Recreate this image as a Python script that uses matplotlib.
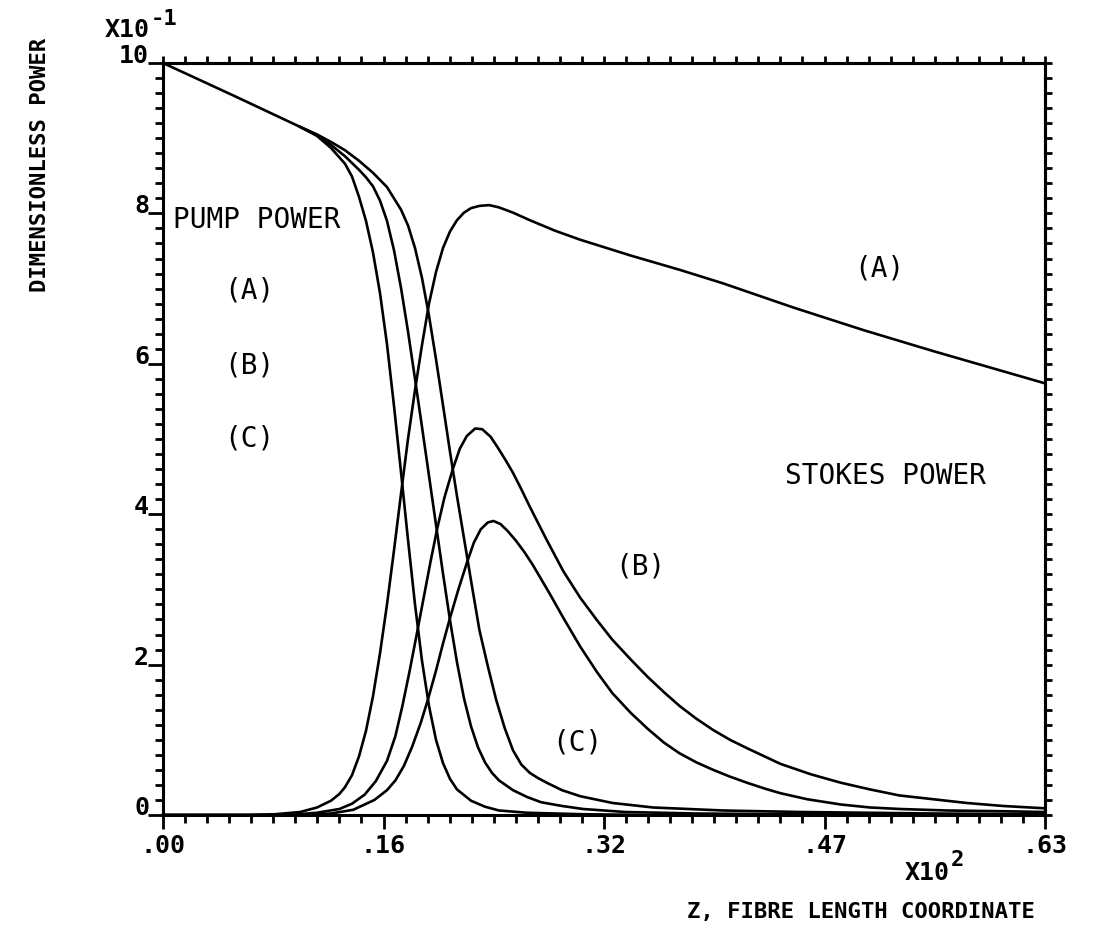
import numpy as np
import matplotlib
matplotlib.use('Agg')
from matplotlib import pyplot as plt

plt.rcParams['font.family'] = ['DejaVu Sans Mono']

###########################################
#       Data
#   z = fibre length coordinate, p = dimensionless power
###########################################
pumpA_z = [0, 5.0, 9.8, 11.0, 12.0, 13.0, 13.5, 14.0, 14.5, 15.0, 15.5, 16.0, 16.5, 17.0,
           17.5, 18.0, 18.5, 19.0, 19.5, 20.0, 20.5, 21.0, 22.0, 23.0, 24.0, 26.0, 30.0,
           35.0, 63.0]
pumpA_p = [1.000, 0.957, 0.915, 0.903, 0.887, 0.866, 0.849, 0.822, 0.790, 0.748, 0.694,
           0.626, 0.544, 0.456, 0.366, 0.280, 0.205, 0.145, 0.100, 0.069, 0.048, 0.034,
           0.019, 0.011, 0.006, 0.003, 0.001, 0.000, 0.000]

pumpB_z = [9.8, 11.0, 12.0, 13.0, 14.0, 14.5, 15.0, 15.5, 16.0, 16.5, 17.0, 17.5, 18.0,
           18.5, 19.0, 19.5, 20.0, 20.5, 21.0, 21.5, 22.0, 22.5, 23.0, 23.5, 24.0, 25.0,
           26.0, 27.0, 28.5, 30.0, 33.0, 38.0, 45.0, 63.0]
pumpB_p = [0.915, 0.904, 0.891, 0.876, 0.858, 0.848, 0.836, 0.817, 0.790, 0.751, 0.701,
           0.643, 0.580, 0.516, 0.451, 0.386, 0.321, 0.259, 0.203, 0.155, 0.118, 0.090,
           0.070, 0.056, 0.046, 0.033, 0.024, 0.017, 0.012, 0.008, 0.004, 0.002, 0.001,
           0.000]

pumpC_z = [9.8, 11.0, 12.0, 13.0, 14.0, 15.0, 16.0, 17.0, 17.5, 18.0, 18.5, 19.0, 19.5,
           20.0, 20.5, 21.0, 21.5, 22.0, 22.6, 23.2, 23.8, 24.4, 25.0, 25.6, 26.2, 26.8,
           27.4, 28.5, 29.8, 32.1, 35.0, 40.0, 45.5, 55.0, 63.0]
pumpC_p = [0.915, 0.905, 0.895, 0.884, 0.870, 0.854, 0.835, 0.805, 0.784, 0.754, 0.714,
           0.664, 0.606, 0.545, 0.483, 0.424, 0.368, 0.312, 0.246, 0.198, 0.153, 0.116,
           0.086, 0.067, 0.056, 0.049, 0.043, 0.033, 0.025, 0.016, 0.010, 0.006, 0.004,
           0.002, 0.001]

stokesA_z = [0, 6.0, 8.0, 9.8, 11.0, 12.0, 12.6, 13.0, 13.5, 14.0, 14.5, 15.0, 15.5, 16.0,
             16.5, 17.0, 17.5, 18.0, 18.5, 19.0, 19.5, 20.0, 20.5, 21.0, 21.5, 22.0, 22.6,
             23.3, 24.0, 25.0, 26.2, 28.0, 29.8, 33.4, 36.9, 40.0, 45.0, 50.0, 55.0, 63.0]
stokesA_p = [0.0, 0.0, 0.001, 0.004, 0.010, 0.019, 0.028, 0.037, 0.053, 0.078, 0.112,
             0.158, 0.215, 0.280, 0.352, 0.427, 0.500, 0.565, 0.625, 0.680, 0.722, 0.754,
             0.776, 0.791, 0.801, 0.807, 0.810, 0.811, 0.808, 0.801, 0.791, 0.777, 0.765,
             0.744, 0.725, 0.707, 0.675, 0.645, 0.617, 0.574]

stokesB_z = [0, 9.0, 11.0, 12.6, 13.5, 14.4, 15.2, 16.0, 16.6, 17.1, 17.6, 18.1, 18.6, 19.1,
             19.6, 20.1, 20.7, 21.2, 21.7, 22.3, 22.8, 23.4, 23.9, 24.5, 25.0, 25.6, 26.2,
             26.8, 27.4, 28.6, 29.8, 31.0, 32.1, 33.4, 34.6, 35.8, 36.9, 38.1, 39.3, 40.5,
             41.7, 44.1, 46.3, 48.4, 50.5, 52.6, 55.0, 57.4, 60.0, 62.9]
stokesB_p = [0.0, 0.0, 0.003, 0.008, 0.015, 0.027, 0.045, 0.072, 0.105, 0.145, 0.190,
             0.238, 0.287, 0.336, 0.382, 0.422, 0.460, 0.487, 0.504, 0.514, 0.513, 0.503,
             0.489, 0.471, 0.455, 0.433, 0.410, 0.388, 0.366, 0.324, 0.289, 0.259, 0.233,
             0.207, 0.184, 0.163, 0.145, 0.128, 0.113, 0.100, 0.089, 0.068, 0.054, 0.043,
             0.034, 0.026, 0.021, 0.016, 0.012, 0.009]

stokesC_z = [0, 10.0, 12.0, 13.6, 15.1, 16.0, 16.6, 17.2, 17.8, 18.4, 18.9, 19.5, 20.0,
             20.5, 21.1, 21.7, 22.2, 22.7, 23.2, 23.6, 24.1, 24.6, 25.2, 25.8, 26.4, 27.0,
             27.6, 28.6, 29.8, 31.0, 32.1, 33.4, 34.6, 35.8, 36.9, 38.1, 39.3, 40.5, 41.7,
             43.0, 44.1, 46.0, 48.4, 50.5, 52.6, 56.0, 60.0, 62.9]
stokesC_p = [0.0, 0.0, 0.002, 0.007, 0.020, 0.033, 0.046, 0.065, 0.091, 0.122, 0.152,
             0.192, 0.228, 0.262, 0.300, 0.335, 0.362, 0.380, 0.389, 0.391, 0.387, 0.378,
             0.365, 0.350, 0.333, 0.314, 0.295, 0.262, 0.224, 0.190, 0.162, 0.136, 0.115,
             0.096, 0.082, 0.070, 0.060, 0.051, 0.043, 0.035, 0.029, 0.021, 0.014, 0.010,
             0.008, 0.006, 0.005, 0.004]

x_major = [0, 15.75, 31.5, 47.25, 63.0]
x_labels = ['.00', '.16', '.32', '.47', '.63']
y_major = [0, 0.2, 0.4, 0.6, 0.8, 1.0]
y_labels = ['0', '2', '4', '6', '8', '10']

###########################################
#               Plot
###########################################
fig = plt.figure(figsize=(10.98, 9.48), dpi=100)
ax = fig.add_axes([163/1098, 1-815/948, (1045-163)/1098, (815-63)/948])

for z, p in [(pumpA_z, pumpA_p), (pumpB_z, pumpB_p), (pumpC_z, pumpC_p),
             (stokesA_z, stokesA_p), (stokesB_z, stokesB_p), (stokesC_z, stokesC_p)]:
    ax.plot(z, p, color='black', lw=1.9, solid_joinstyle='round', clip_on=False)

ax.set_xlim(0, 63)
ax.set_ylim(0, 1.0)
for s in ax.spines.values():
    s.set_linewidth(2.2)

ax.set_xticks(x_major)
ax.set_xticklabels(x_labels, fontsize=18, fontweight='bold')
ax.set_xticks(np.linspace(0, 63, 41), minor=True)
ax.set_yticks(y_major)
ax.set_yticklabels(y_labels, fontsize=18, fontweight='bold')
ax.set_yticks(np.linspace(0, 1.0, 51), minor=True)
for lbl in ax.get_yticklabels():
    lbl.set_va('baseline')

ax.tick_params(axis='x', which='major', direction='out', length=10, width=2, pad=4)
ax.tick_params(axis='x', which='minor', direction='out', length=6, width=2)
ax.tick_params(axis='y', which='major', direction='out', length=11, width=2, pad=-1)
ax.tick_params(axis='y', which='minor', direction='out', length=6, width=2)

# top and right ticks, no labels
secx = ax.secondary_xaxis('top')
secx.set_xticks(np.linspace(0, 63, 41))
secx.set_xticklabels([])
secx.tick_params(direction='out', length=5, width=2)
secx.spines['top'].set_linewidth(2.2)
secy = ax.secondary_yaxis('right')
secy.set_yticks(np.linspace(0, 1.0, 51))
secy.set_yticklabels([])
secy.tick_params(direction='out', length=5, width=2)
secy.spines['right'].set_linewidth(2.2)

# annotations
ann = dict(fontsize=20, color='black')
ax.text(0.7, 0.791, 'PUMP POWER', ha='left', va='center', **ann)
ax.text(6.2, 0.698, '(A)', ha='center', va='center', **ann)
ax.text(6.2, 0.598, '(B)', ha='center', va='center', **ann)
ax.text(6.2, 0.501, '(C)', ha='center', va='center', **ann)
ax.text(51.2, 0.727, '(A)', ha='center', va='center', **ann)
ax.text(51.6, 0.451, 'STOKES POWER', ha='center', va='center', **ann)
ax.text(34.1, 0.330, '(B)', ha='center', va='center', **ann)
ax.text(29.6, 0.097, '(C)', ha='center', va='center', **ann)

# axis titles and scale factors
fig.text(40/1098, 1-165/948, 'DIMENSIONLESS POWER', rotation=90, ha='center', va='center',
         fontsize=16, fontweight='bold')
fig.text(1035/1098, 1-912/948, 'Z, FIBRE LENGTH COORDINATE', ha='right', va='center',
         fontsize=16, fontweight='bold')
fig.text(105/1098, 1-37/948, 'X10', ha='left', va='baseline', fontsize=18, fontweight='bold')
fig.text(151/1098, 1-25/948, '-1', ha='left', va='baseline', fontsize=16, fontweight='bold')
fig.text(905/1098, 1-880/948, 'X10', ha='left', va='baseline', fontsize=18, fontweight='bold')
fig.text(951/1098, 1-866/948, '2', ha='left', va='baseline', fontsize=16, fontweight='bold')

fig.savefig('out.png', dpi=100)
